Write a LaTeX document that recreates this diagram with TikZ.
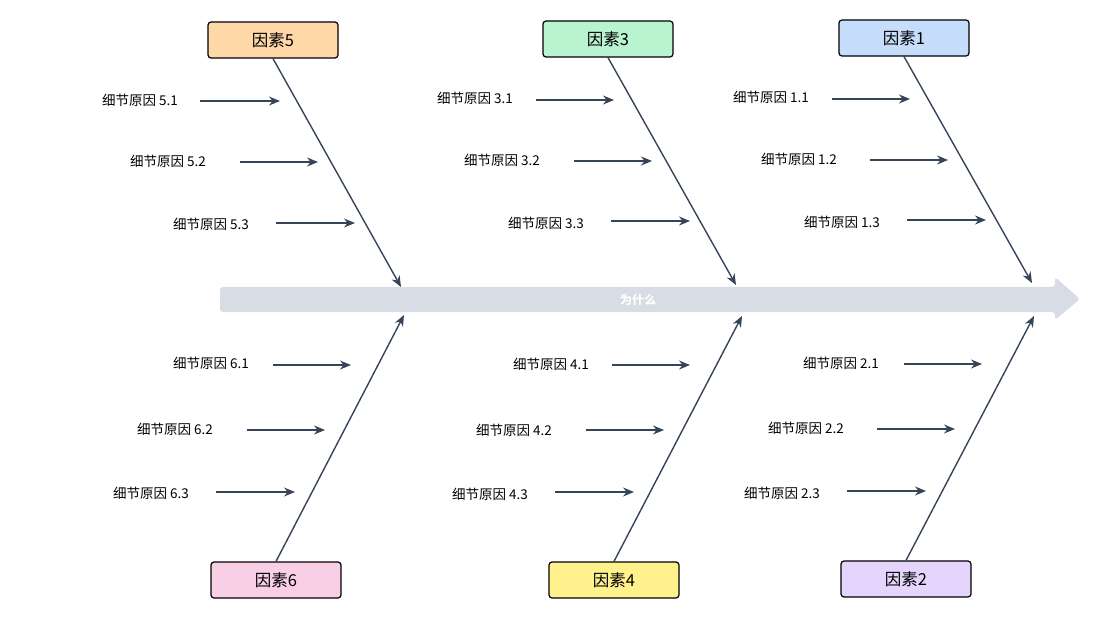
\documentclass[tikz,border=0pt]{standalone}
\usepackage{fontspec}
\setmainfont{Noto Sans CJK SC}
\usetikzlibrary{arrows.meta,shapes.arrows}

\definecolor{bone}{HTML}{36445A}
\definecolor{spine}{HTML}{D8DCE4}
\definecolor{cA}{HTML}{FFD8A8}
\definecolor{cB}{HTML}{B9F3CF}
\definecolor{cC}{HTML}{C6DDFC}
\definecolor{cD}{HTML}{F9CFE5}
\definecolor{cE}{HTML}{FFF18C}
\definecolor{cF}{HTML}{E5D5FC}

\tikzset{
    factor/.style={draw=black, line width=1.2pt, rounded corners=3pt,
        minimum width=130pt, minimum height=36pt, inner sep=0pt,
        font=\fontsize{16.5}{16.5}\selectfont},
    detail/.style={font=\fontsize{13.5}{13.5}\selectfont, inner sep=0pt},
    bonearrow/.style={bone, line width=1.4pt, -{Stealth[length=11pt,width=9pt]}}
}

\begin{document}
\begin{tikzpicture}[x=1pt,y=-1pt]
        \useasboundingbox (0,0) rectangle (1100,618);

        % Spine
        \fill[spine, rounded corners=3pt]
            (220,287) -- (1055,287) -- (1055,277) -- (1080,299)
            -- (1055,320) -- (1055,312) -- (220,312) -- cycle;
        \node[font=\bfseries\fontsize{12}{12}\selectfont, text=white] (why) at (638,300) {为什么};

        % Factor boxes
        \node[factor, fill=cA] (F5) at (273,40) {因素5};
        \node[factor, fill=cB] (F3) at (608,39) {因素3};
        \node[factor, fill=cC] (F1) at (904,38) {因素1};
        \node[factor, fill=cD] (F6) at (276,580) {因素6};
        \node[factor, fill=cE] (F4) at (614,580) {因素4};
        \node[factor, fill=cF] (F2) at (906,579) {因素2};

        % Bone ends on the spine
        \coordinate (S5) at (401,287);
        \coordinate (S3) at (736,285);
        \coordinate (S1) at (1032,283);
        \coordinate (S6) at (404,315);
        \coordinate (S4) at (742,316);
        \coordinate (S2) at (1034,316);

        \foreach \k in {1,3,5}
            \draw[bonearrow] (F\k.south) -- (S\k);
        \foreach \k in {2,4,6}
            \draw[bonearrow] (F\k.north) -- (S\k);

        % Detail causes: name/text x,y / start x / end x / arrow y
        \foreach \n/\t/\tx/\ty/\ax/\bx/\ay in {
            a/5.1/140/100/200/280/101, b/5.2/168/161/240/318/162, c/5.3/211/224/276/355/223,
            d/3.1/475/98/536/614/100, e/3.2/502/160/574/652/161, f/3.3/546/223/611/690/221,
            g/1.1/771/97/832/910/99, h/1.2/799/159/870/948/160, i/1.3/842/222/907/986/220,
            j/6.1/211/363/273/351/365, k/6.2/175/429/247/325/430, l/6.3/151/493/216/295/492,
            m/4.1/551/364/612/690/365, n/4.2/514/430/586/664/430, o/4.3/490/494/555/634/492,
            p/2.1/841/363/904/982/364, q/2.2/806/428/877/955/429, r/2.3/782/493/847/926/491}
        {
            \node[detail] (T\n) at (\tx,\ty) {细节原因 \t};
            \coordinate (A\n) at (\ax,\ay);
            \coordinate (B\n) at (\bx,\ay);
            \draw[bonearrow] (A\n) -- (B\n);
        }

\end{tikzpicture}
\end{document}
